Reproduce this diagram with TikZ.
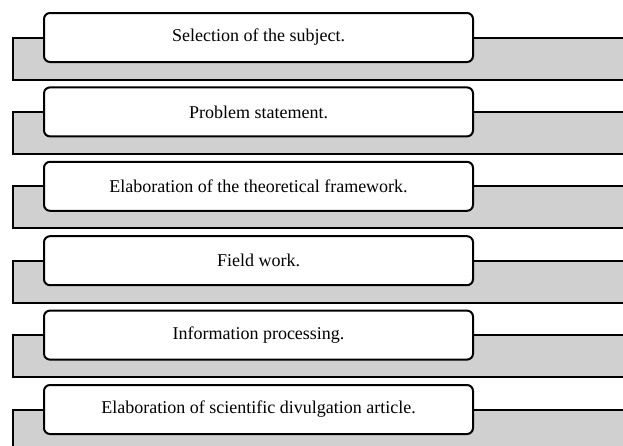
\documentclass[tikz,border=0pt]{standalone}
\usepackage{fontspec}
\setmainfont{Liberation Serif}
\definecolor{bandgray}{RGB}{208,208,208}
\begin{document}
\begin{tikzpicture}[x=1pt,y=-1pt,
  band/.style={draw=black,line width=2pt,fill=bandgray},
  stepbox/.style={draw=black,line width=2pt,fill=white,rounded corners=6pt,
    minimum width=429pt,minimum height=49pt,inner sep=0pt,font=\fontsize{18}{20}\selectfont,anchor=center}]
\useasboundingbox (0,0) rectangle (623,445);
\begin{scope}
\clip (0,0) rectangle (623,445);
\foreach \i/\t in {0/{Selection of the subject.},1/{Problem statement.},2/{Elaboration of the theoretical framework.},3/{Field work.},4/{Information processing.},5/{Elaboration of scientific divulgation article.}}{
  \pgfmathsetmacro{\g}{37.5+74.4*\i}
  \draw[band] (640,\g) -- (12.5,\g) -- (12.5,\g+42) -- (640,\g+42);
  \node[stepbox] (s\i) at (258.5,\g) {\t};
}
\end{scope}
\end{tikzpicture}
\end{document}
